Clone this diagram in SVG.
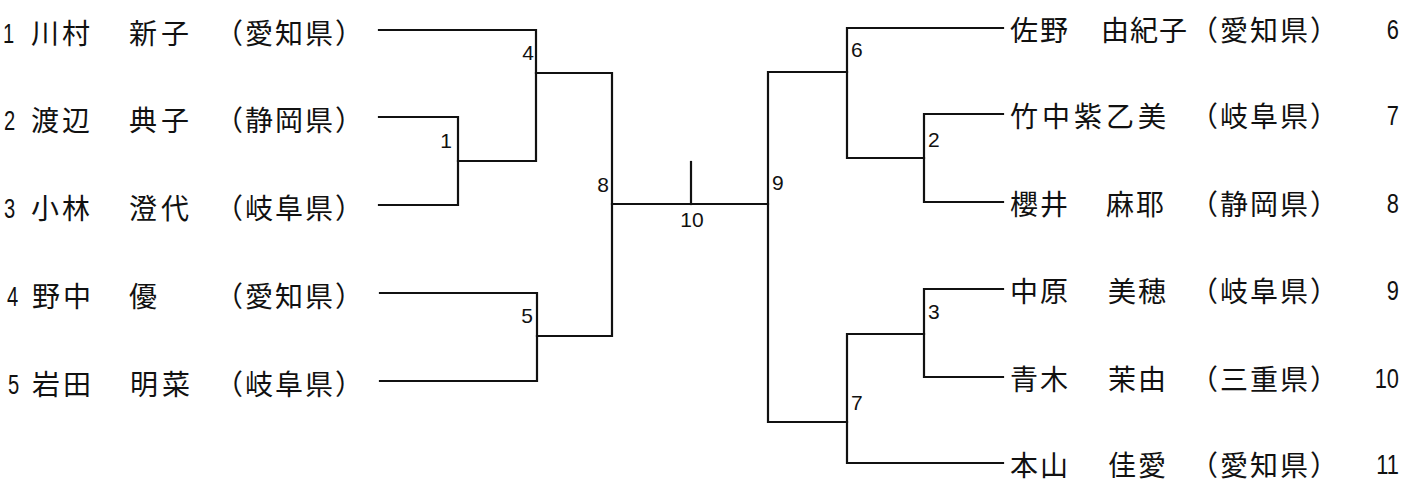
<svg xmlns="http://www.w3.org/2000/svg" width="1417" height="485" viewBox="0 0 1417 485">
<style>
  .bg { fill: #ffffff; }
  .ln { fill: none; stroke: #111111; stroke-width: 2.2; stroke-linecap: square; }
  .jp { font-family: "Noto Sans CJK JP", "Noto Sans CJK SC", sans-serif; font-size: 28px; fill: #111111; }
  .s3 { letter-spacing: 3px; }
  .s4 { letter-spacing: 4px; }
  .s2 { letter-spacing: 2px; }
  .num { font-family: "Liberation Sans", Arial, sans-serif; font-size: 28px; fill: #111111; }
  .lbl { font-family: "Liberation Sans", Arial, sans-serif; font-size: 21px; fill: #111111; }
</style>
<rect class="bg" x="0" y="0" width="1417" height="485"/>

<g id="connectors">
  <path class="ln" d="M379,30 H536 V161 H458"/>
  <path class="ln" d="M379,117 H458 V205 H379"/>
  <path class="ln" d="M536,73 H612 V336 H537"/>
  <path class="ln" d="M380,293 H537 V381 H380"/>
  <path class="ln" d="M612,204 H768"/>
  <path class="ln" d="M691,162 V204"/>
  <path class="ln" d="M847,72 H768 V422 H847"/>
  <path class="ln" d="M1003,28 H847 V158 H924"/>
  <path class="ln" d="M1003,114 H924 V202 H1003"/>
  <path class="ln" d="M1003,289 H924 V377 H1003"/>
  <path class="ln" d="M924,334 H847 V463 H1003"/>
</g>

<g id="player1">
  <text class="num" transform="translate(3,43) scale(0.72,1)">1</text>
  <text class="jp s3" x="31" y="44">川村</text>
  <text class="jp s4" x="129" y="44">新子</text>
  <text class="jp s2" x="215" y="44">（愛知県）</text>
</g>
<g id="player2">
  <text class="num" transform="translate(4,130) scale(0.72,1)">2</text>
  <text class="jp s3" x="31" y="131">渡辺</text>
  <text class="jp s4" x="129" y="131">典子</text>
  <text class="jp s2" x="215" y="131">（静岡県）</text>
</g>
<g id="player3">
  <text class="num" transform="translate(4,218) scale(0.72,1)">3</text>
  <text class="jp s3" x="31" y="219">小林</text>
  <text class="jp s4" x="129" y="219">澄代</text>
  <text class="jp s2" x="215" y="219">（岐阜県）</text>
</g>
<g id="player4">
  <text class="num" transform="translate(7,306) scale(0.72,1)">4</text>
  <text class="jp s3" x="32" y="307">野中</text>
  <text class="jp s4" x="129" y="307">優</text>
  <text class="jp s2" x="215" y="307">（愛知県）</text>
</g>
<g id="player5">
  <text class="num" transform="translate(8,394) scale(0.72,1)">5</text>
  <text class="jp s3" x="32" y="395">岩田</text>
  <text class="jp s4" x="130" y="395">明菜</text>
  <text class="jp s2" x="215" y="395">（岐阜県）</text>
</g>

<g id="player6">
  <text class="jp s2" x="1010" y="41">佐野</text>
  <text class="jp" x="1101" y="41" letter-spacing="1">由紀子</text>
  <text class="jp s2" x="1190" y="41">（愛知県）</text>
  <text class="num" text-anchor="end" transform="translate(1399,39) scale(0.78,1)">6</text>
</g>
<g id="player7">
  <text class="jp s4" x="1010" y="127">竹中紫乙美</text>
  <text class="jp s2" x="1190" y="127">（岐阜県）</text>
  <text class="num" text-anchor="end" transform="translate(1399,125) scale(0.78,1)">7</text>
</g>
<g id="player8">
  <text class="jp s2" x="1010" y="215">櫻井</text>
  <text class="jp s2" x="1106" y="215">麻耶</text>
  <text class="jp s2" x="1190" y="215">（静岡県）</text>
  <text class="num" text-anchor="end" transform="translate(1399,213) scale(0.78,1)">8</text>
</g>
<g id="player9">
  <text class="jp s2" x="1010" y="302">中原</text>
  <text class="jp s2" x="1108" y="302">美穂</text>
  <text class="jp s2" x="1190" y="302">（岐阜県）</text>
  <text class="num" text-anchor="end" transform="translate(1399,300) scale(0.78,1)">9</text>
</g>
<g id="player10">
  <text class="jp s2" x="1010" y="390">青木</text>
  <text class="jp s2" x="1108" y="390">茉由</text>
  <text class="jp s2" x="1190" y="390">（三重県）</text>
  <text class="num" text-anchor="end" transform="translate(1399,388) scale(0.78,1)">10</text>
</g>
<g id="player11">
  <text class="jp s2" x="1010" y="476">本山</text>
  <text class="jp s2" x="1108" y="476">佳愛</text>
  <text class="jp s2" x="1190" y="476">（愛知県）</text>
  <text class="num" text-anchor="end" transform="translate(1399,474) scale(0.78,1)">11</text>
</g>

<g id="match1"><text class="lbl" x="452" y="148" text-anchor="end">1</text></g>
<g id="match4"><text class="lbl" x="534" y="60" text-anchor="end">4</text></g>
<g id="match5"><text class="lbl" x="533" y="323" text-anchor="end">5</text></g>
<g id="match8"><text class="lbl" x="609" y="192" text-anchor="end">8</text></g>
<g id="match10"><text class="lbl" x="692" y="227" text-anchor="middle">10</text></g>
<g id="match9"><text class="lbl" x="772" y="190">9</text></g>
<g id="match6"><text class="lbl" x="851" y="57">6</text></g>
<g id="match2"><text class="lbl" x="928" y="147">2</text></g>
<g id="match3"><text class="lbl" x="928" y="319">3</text></g>
<g id="match7"><text class="lbl" x="851" y="410">7</text></g>
</svg>
